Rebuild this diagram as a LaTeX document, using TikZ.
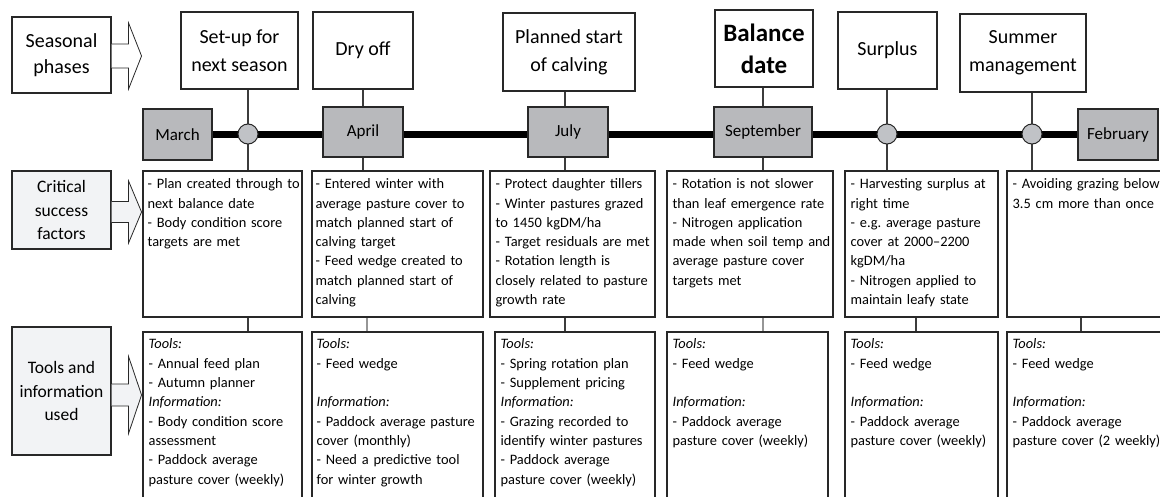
\documentclass[tikz,border=0pt]{standalone}
\usepackage{fontspec}
\setmainfont{Carlito}
\usetikzlibrary{calc}
\pgfdeclarelayer{background}
\pgfsetlayers{background,main}
\frenchspacing

\definecolor{edge}{RGB}{40,40,40}
\definecolor{monthgray}{RGB}{184,185,188}
\definecolor{knobgray}{RGB}{192,194,198}
\definecolor{pale}{RGB}{242,243,245}
\definecolor{wire}{RGB}{60,60,60}
\definecolor{softwire}{RGB}{150,150,150}

% side arrow pointing right from a label box:
% #1 node, #2 vertical offset, #3 half shaft, #4 half head, #5 fill
\newcommand\sidearrow[5]{%
  \begin{scope}[shift={($(#1.east)+(0,#2)$)}]
    \fill[#5] (0,-#3) -- (17,-#3) -- (17,-#4) -- (30,0) -- (17,#4) -- (17,#3) -- (0,#3) -- cycle;
    \draw[edge, line width=0.8pt, line join=miter]
      (0,-#3) -- (17,-#3) -- (17,-#4) -- (30,0) -- (17,#4) -- (17,#3) -- (0,#3);
  \end{scope}}

\begin{document}
\begin{tikzpicture}[x=1pt, y=-1pt,
  box/.style={draw=edge, line width=1.1pt, rectangle, inner sep=0pt, fill=white},
  labelbox/.style={box, align=center},
  phasebox/.style={box, align=center, font=\fontsize{20}{28}\selectfont},
  monthbox/.style={box, fill=monthgray, font=\fontsize{17}{20}\selectfont},
  knob/.style={circle, draw=edge, line width=1pt, fill=knobgray, minimum size=20pt, inner sep=0pt},
  colbox/.style={box},
  bodytext/.style={anchor=base west, inner sep=0pt, text width=175pt, align=left,
    font=\fontsize{14.4}{19.3}\selectfont},
  rail/.style={line width=7pt, black},
  link/.style={wire, line width=1.1pt},
  softlink/.style={softwire, line width=1.1pt}
]
\clip (0,0) rectangle (1160,497);
\useasboundingbox (0,0) rectangle (1160,497);

% row labels on the left
\node[labelbox, minimum width=99pt, minimum height=76pt, font=\fontsize{20}{26}\selectfont]
  (sp) at (61.5,55) {Seasonal\\phases};
\node[labelbox, fill=pale, minimum width=99pt, minimum height=78pt, font=\fontsize{17.5}{23.3}\selectfont]
  (csf) at (61.5,210) {Critical\\success\\factors};
\node[labelbox, fill=pale, minimum width=99pt, minimum height=128pt, font=\fontsize{17.5}{23.3}\selectfont]
  (tiu) at (61.5,391) {Tools and\\information\\used};

\sidearrow{sp}{1}{12}{33}{white}
\sidearrow{csf}{2}{10.5}{31}{pale}
\sidearrow{tiu}{4}{11}{38.5}{pale}

% seasonal phases
\node[phasebox, minimum width=117pt, minimum height=77pt] (ph1) at (239.5,50.5) {Set-up for\\next season};
\node[phasebox, minimum width=100pt, minimum height=77pt] (ph2) at (363,50.5) {Dry off};
\node[phasebox, minimum width=132pt, minimum height=78pt] (ph3) at (569,52) {Planned start\\of calving};
\node[phasebox, minimum width=98pt, minimum height=77pt, font=\fontsize{25}{32}\selectfont\bfseries]
  (ph4) at (764,48.5) {Balance\\date};
\node[phasebox, minimum width=99pt, minimum height=77pt] (ph5) at (887.5,50.5) {Surplus};
\node[phasebox, minimum width=126pt, minimum height=78pt] (ph6) at (1023,53) {Summer\\management};

% timeline: months and milestones
\node[monthbox, minimum width=69pt, minimum height=51pt] (mar) at (177.5,134.5) {March};
\node[monthbox, minimum width=80pt, minimum height=50pt] (apr) at (363,132) {April};
\node[monthbox, minimum width=80pt, minimum height=50pt] (jul) at (568,132) {July};
\node[monthbox, minimum width=98pt, minimum height=50pt] (sep) at (763,132) {September};
\node[monthbox, minimum width=80pt, minimum height=51pt] (feb) at (1118,134.5) {February};
\node[knob] (k1) at (248,134) {};
\node[knob] (k2) at (887,134) {};
\node[knob] (k3) at (1032,134) {};

% critical success factors
\node[colbox, minimum width=159pt, minimum height=146pt] (c1) at (222.5,244) {};
\node[colbox, minimum width=171pt, minimum height=146pt] (c2) at (397.5,244) {};
\node[colbox, minimum width=165pt, minimum height=146pt] (c3) at (572.5,244) {};
\node[colbox, minimum width=166pt, minimum height=146pt] (c4) at (750,244) {};
\node[colbox, minimum width=153pt, minimum height=146pt] (c5) at (921.5,244) {};
\node[colbox, minimum width=163pt, minimum height=146pt] (c6) at (1088.5,244) {};

\node[bodytext] (c1t) at ($(c1.north west)+(5,18.3)$)
  {- Plan created through to\\next balance date\\- Body condition score\\targets are met};
\node[bodytext] (c2t) at ($(c2.north west)+(4,18.3)$)
  {- Entered winter with\\average pasture cover to\\match planned start of\\calving target\\- Feed wedge created to\\match planned start of\\calving};
\node[bodytext] (c3t) at ($(c3.north west)+(6,18.3)$)
  {- Protect daughter tillers\\- Winter pastures grazed\\to 1450 kgDM/ha\\- Target residuals are met\\- Rotation length is\\closely related to pasture\\growth rate};
\node[bodytext] (c4t) at ($(c4.north west)+(6,18.3)$)
  {- Rotation is not slower\\than leaf emergence rate\\- Nitrogen application\\made when soil temp and\\average pasture cover\\targets met};
\node[bodytext] (c5t) at ($(c5.north west)+(6,18.3)$)
  {- Harvesting surplus at\\right time\\- e.g. average pasture\\cover at 2000–2200\\kgDM/ha\\- Nitrogen applied to\\maintain leafy state};
\node[bodytext] (c6t) at ($(c6.north west)+(6,18.3)$)
  {- Avoiding grazing below\\3.5 cm more than once};

% tools and information
\node[colbox, minimum width=159pt, minimum height=173pt] (t1) at (222.5,418.5) {};
\node[colbox, minimum width=171pt, minimum height=173pt] (t2) at (397.5,418.5) {};
\node[colbox, minimum width=160pt, minimum height=173pt] (t3) at (575,418.5) {};
\node[colbox, minimum width=161pt, minimum height=173pt] (t4) at (747.5,418.5) {};
\node[colbox, minimum width=153pt, minimum height=173pt] (t5) at (921.5,418.5) {};
\node[colbox, minimum width=163pt, minimum height=173pt] (t6) at (1088.5,418.5) {};

\node[bodytext] (t1t) at ($(t1.north west)+(6,17.5)$)
  {\textit{Tools:}\\- Annual feed plan\\- Autumn planner\\\textit{Information:}\\- Body condition score\\assessment\\- Paddock average\\pasture cover (weekly)};
\node[bodytext] (t2t) at ($(t2.north west)+(5,17.5)$)
  {\textit{Tools:}\\- Feed wedge\\\mbox{}\\\textit{Information:}\\- Paddock average pasture\\cover (monthly)\\- Need a predictive tool\\for winter growth};
\node[bodytext] (t3t) at ($(t3.north west)+(6,17.5)$)
  {\textit{Tools:}\\- Spring rotation plan\\- Supplement pricing\\\textit{Information:}\\- Grazing recorded to\\identify winter pastures\\- Paddock average\\pasture cover (weekly)};
\node[bodytext] (t4t) at ($(t4.north west)+(6,17.5)$)
  {\textit{Tools:}\\- Feed wedge\\\mbox{}\\\textit{Information:}\\- Paddock average\\pasture cover (weekly)};
\node[bodytext] (t5t) at ($(t5.north west)+(6,17.5)$)
  {\textit{Tools:}\\- Feed wedge\\\mbox{}\\\textit{Information:}\\- Paddock average\\pasture cover (weekly)};
\node[bodytext] (t6t) at ($(t6.north west)+(6,17.5)$)
  {\textit{Tools:}\\- Feed wedge\\\mbox{}\\\textit{Information:}\\- Paddock average\\pasture cover (2 weekly)};

% connectors between columns and tools boxes
\coordinate (v1) at (248,0);
\coordinate (v2) at (367,0);
\coordinate (v3) at (565,0);
\coordinate (v4) at (763,0);
\coordinate (v5) at (916,0);
\coordinate (v6) at (1081,0);

\begin{pgfonlayer}{background}
  \draw[rail] (mar) -- (feb);
  \draw[link] (ph1.south -| k1) -- (c1.north -| k1);
  \draw[link] (ph2.south) -- (c2.north -| apr);
  \draw[link] (ph3.south -| v3) -- (c3.north -| v3);
  \draw[link] (ph4.south -| v4) -- (c4.north -| v4);
  \draw[link] (ph5.south -| k2) -- (c5.north -| k2);
  \draw[link] (ph6.south -| k3) -- (c6.north -| k3);
  \draw[link] (c1.south -| v1) -- (t1.north -| v1);
  \draw[softlink] (c2.south -| v2) -- (t2.north -| v2);
  \draw[link] (c3.south -| v3) -- (t3.north -| v3);
  \draw[softlink] (c4.south -| v4) -- (t4.north -| v4);
  \draw[link] (c5.south -| v5) -- (t5.north -| v5);
  \draw[link] (c6.south -| v6) -- (t6.north -| v6);
\end{pgfonlayer}
\end{tikzpicture}
\end{document}
